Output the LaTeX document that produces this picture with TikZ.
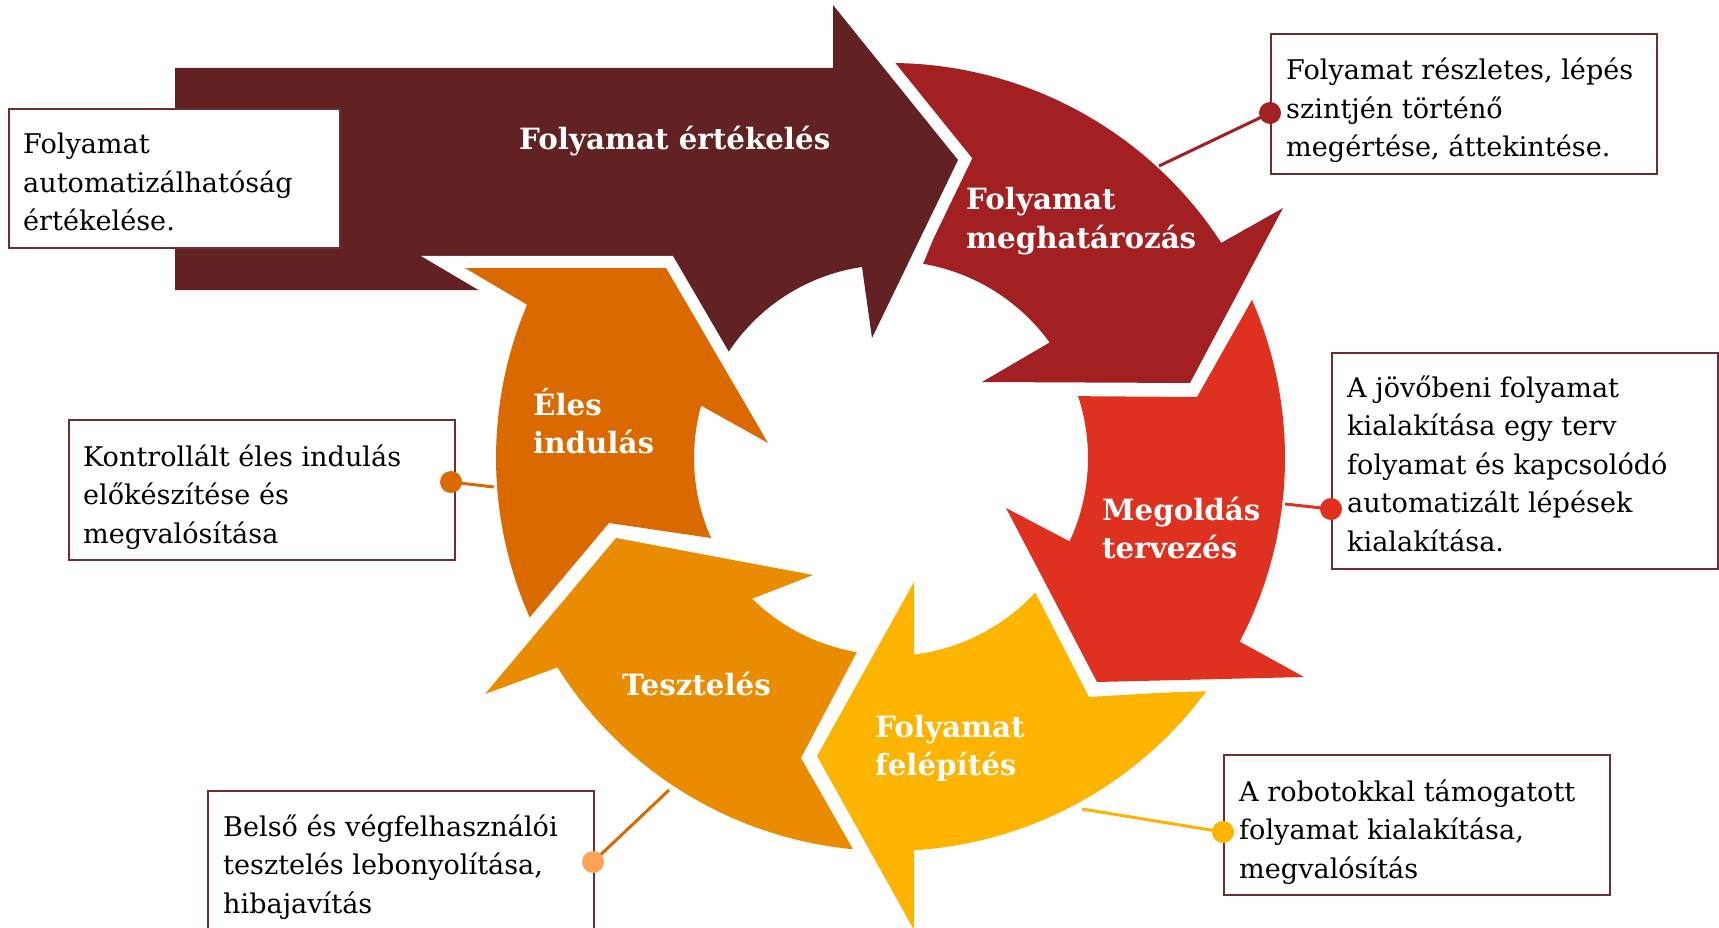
\documentclass[tikz,border=0pt]{standalone}
\usepackage{fontspec}
\setmainfont{DejaVu Serif}
\usetikzlibrary{calc}
\definecolor{cDark}{HTML}{622223}
\definecolor{cMegh}{HTML}{A21F22}
\definecolor{cMegold}{HTML}{DE3120}
\definecolor{cFelep}{HTML}{FDB400}
\definecolor{cTeszt}{HTML}{E98C00}
\definecolor{cEles}{HTML}{DA6900}
\definecolor{cBorder}{HTML}{6E2E2E}
\definecolor{cDotTeszt}{HTML}{FBA457}
\tikzset{
  seg/.style={fill=#1, preaction={draw=white, line width=24, line join=miter}},
  lbl/.style={anchor=base west, inner sep=0, text=white, font=\fontsize{29.3}{38.5}\selectfont\bfseries},
  desc/.style={anchor=base west, inner sep=0, text=black, font=\fontsize{27.1}{38.5}\selectfont},
  boxstyle/.style={draw=cBorder, line width=2, fill=white, anchor=north west, inner sep=0, rectangle},
  dotstyle/.style={circle, fill=#1, inner sep=0, minimum size=22},
  conn/.style={draw=#1, line width=3},
}
\begin{document}
\begin{tikzpicture}[x=1pt,y=-1pt]
\useasboundingbox (0,0) rectangle (1719,928);
\coordinate (C) at (890,458);
% Tesztelés
\fill[seg=cTeszt] ($(C)+(95.4:393)$) -- (801,758) -- ($(C)+(99.7:197)$)
  arc[start angle=99.7, end angle=134.4, radius=197] -- (813,575) -- (616,538) -- (485,694)
  -- ($(C)+(147.8:393)$) arc[start angle=147.8, end angle=95.4, radius=393] -- cycle;
% Folyamat felépítés
\fill[seg=cFelep] ($(C)+(36.2:393)$) -- (1089,697) -- ($(C)+(42.8:198)$)
  arc[start angle=42.8, end angle=83.0, radius=198] -- (914,582) -- (817,756) -- (914,930)
  -- ($(C)+(86.5:393)$) arc[start angle=86.5, end angle=36.2, radius=393] -- cycle;
% Megoldás tervezés
\fill[seg=cMegold] ($(C)+(-23.6:395)$) -- (1197,397) -- ($(C)+(-18.2:198)$)
  arc[start angle=-18.2, end angle=24.9, radius=198] -- (1006,508) -- (1097,682) -- (1304,677)
  -- ($(C)+(27.7:395)$) arc[start angle=27.7, end angle=-23.6, radius=395] -- cycle;
% Folyamat meghatározás
\fill[seg=cMegh] ($(C)+(-89.3:394)$) -- (967,156) -- ($(C)+(-80.3:197)$)
  arc[start angle=-80.3, end angle=-35.9, radius=197] -- (982,382) -- (1190,383) -- (1283,208)
  -- ($(C)+(-33.0:395)$) arc[start angle=-33.0, end angle=-89.3, radius=395] -- cycle;
% Folyamat értékelés (straight arrow)
\fill[seg=cDark] (175,68) -- (833,68) -- (833,5) -- (958,160) -- (872,338) -- (862,267)
  arc[start angle=261.7, end angle=205, radius=193] -- (600,290) -- (175,290) -- cycle;
% Éles indulás
\fill[seg=cEles] ($(C)+(156.2:393)$) -- (609,523) -- ($(C)+(155.9:196)$)
  arc[start angle=155.9, end angle=195.5, radius=196] -- (768,443) -- (666,268) -- (465,268)
  -- ($(C)+(202.9:394)$) arc[start angle=202.9, end angle=156.2, radius=394] -- cycle;

% labels on arrows
\node[lbl] (lErt) at (519,150) {Folyamat értékelés};
\node[lbl] (lMegh) at (966,210) {\vtop{\hbox{Folyamat}\hbox{meghatározás}}};
\node[lbl] (lMegold) at (1102,520) {\vtop{\hbox{Megoldás}\hbox{tervezés}}};
\node[lbl] (lFelep) at (875,737) {\vtop{\hbox{Folyamat}\hbox{felépítés}}};
\node[lbl] (lTeszt) at (622,695) {Tesztelés};
\node[lbl] (lEles) at (533,415) {\vtop{\hbox{Éles}\hbox{indulás}}};

% description boxes
\node[boxstyle, minimum width=331, minimum height=139] (b1) at (8,108) {};
\node[boxstyle, minimum width=386, minimum height=140] (b2) at (1270,33) {};
\node[boxstyle, minimum width=386, minimum height=216] (b3) at (1331,352) {};
\node[boxstyle, minimum width=386, minimum height=140] (b4) at (68,419) {};
\node[boxstyle, minimum width=386, minimum height=170] (b5) at (207,790) {};
\node[boxstyle, minimum width=386, minimum height=140] (b6) at (1223,754) {};

\node[desc] (t1) at (23,154) {\vtop{\hbox{Folyamat}\hbox{automatizálhatóság}\hbox{értékelése.}}};
\node[desc] (t2) at (1286,80) {\vtop{\hbox{Folyamat részletes, lépés}\hbox{szintjén történő}\hbox{megértése, áttekintése.}}};
\node[desc] (t3) at (1347,397) {\vtop{\hbox{A jövőbeni folyamat}\hbox{kialakítása egy terv}\hbox{folyamat és kapcsolódó}\hbox{automatizált lépések}\hbox{kialakítása.}}};
\node[desc] (t4) at (83,466) {\vtop{\hbox{Kontrollált éles indulás}\hbox{előkészítése és}\hbox{megvalósítása}}};
\node[desc] (t5) at (223,836) {\vtop{\hbox{Belső és végfelhasználói}\hbox{tesztelés lebonyolítása,}\hbox{hibajavítás}}};
\node[desc] (t6) at (1239,801) {\vtop{\hbox{A robotokkal támogatott}\hbox{folyamat kialakítása,}\hbox{megvalósítás}}};

% connectors
\coordinate (e2) at (1159,166);
\coordinate (e3) at (1285,504);
\coordinate (e4) at (494,487);
\coordinate (e5) at (669,790);
\coordinate (e6) at (1082,809);
\coordinate (p2) at (1270,113);
\coordinate (p3) at (1331,509);
\coordinate (p4) at (451,482);
\coordinate (p5) at (593,862);
\coordinate (p6) at (1223,832);
\draw[conn=cMegh] (e2) -- (p2);
\draw[conn=cMegold] (e3) -- (p3);
\draw[conn=cEles] (e4) -- (p4);
\draw[conn=cEles] (e5) -- (p5);
\draw[conn=cFelep] (e6) -- (p6);
\node[dotstyle=cMegh] (d2) at (p2) {};
\node[dotstyle=cMegold] (d3) at (p3) {};
\node[dotstyle=cEles] (d4) at (p4) {};
\node[dotstyle=cDotTeszt] (d5) at (p5) {};
\node[dotstyle=cFelep] (d6) at (p6) {};
\end{tikzpicture}
\end{document}
